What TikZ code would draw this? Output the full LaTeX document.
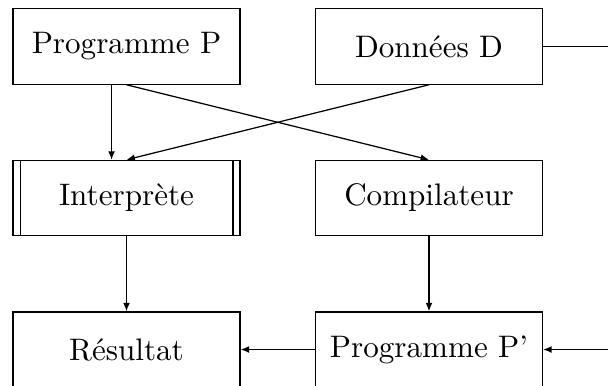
\documentclass[tikz,border=0pt]{standalone}
\usetikzlibrary{arrows.meta}
\begin{document}
\begin{tikzpicture}[x=0.3215pt,y=-0.3215pt,
  box/.style={draw,line width=0.4pt,minimum width=73pt,minimum height=24.2pt,inner sep=0pt},
  arr/.style={-{Latex[length=2.7pt,width=2.2pt]},line width=0.4pt},
  ln/.style={line width=0.4pt}]
\clip (0,0) rectangle (608,385);
\useasboundingbox (0,0) rectangle (608,385);
\node[box] (P) at (126.5,46.5) {Programme P};
\node[box] (D) at (429,46.5) {Données D};
\node[box] (I) at (126.5,198) {Interprète};
\node[box] (C) at (429,198) {Compilateur};
\node[box] (R) at (126.5,349.5) {Résultat};
\node[box] (Q) at (429,349.5) {Programme P’};
\draw[ln] ([xshift=2.5pt]I.north west) -- ([xshift=2.5pt]I.south west);
\draw[ln] ([xshift=-2.5pt]I.north east) -- ([xshift=-2.5pt]I.south east);
\draw[arr] ([xshift=-4.8pt]P.south) -- ([xshift=-4.8pt]I.north);
\draw[arr] (P.south) -- (C.north);
\draw[arr] (D.south) -- (I.north);
\draw[arr] (I.south) -- (R.north);
\draw[arr] (C.south) -- (Q.north);
\draw[arr] (Q.west) -- (R.east);
\draw[arr] (D.east) -- ++(90,0) |- (Q.east);
\end{tikzpicture}
\end{document}
